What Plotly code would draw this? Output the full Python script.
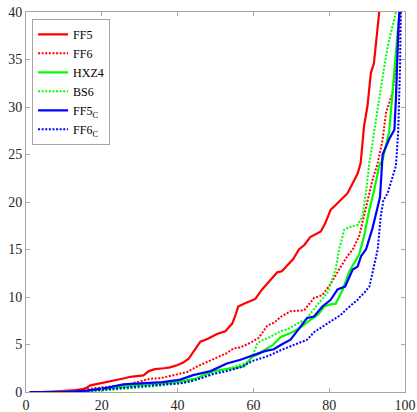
import plotly.graph_objects as go

# ---- data ----
ff5_x = [1, 4, 8, 10, 13, 15, 16, 17, 19, 20.5, 22, 24, 26, 27.5, 29, 31, 32.4, 34, 36.3, 38, 40,
         41.5, 42.9, 43.8, 44.7, 46, 48, 50.4, 52.6, 54.4, 55.2, 56, 57.5, 59.3, 60.5, 62.3, 64,
         66.3, 67.5, 69, 70.5, 72, 73.5, 75, 76.5, 77.8, 79, 80.4, 81.5, 83, 84.8, 86.6, 87.5,
         88.3, 89.2, 90.1, 91, 91.8, 92.5, 93.2]
ff5_y = [0, 0, 0.08, 0.1, 0.2, 0.3, 0.45, 0.7, 0.85, 1.0, 1.1, 1.3, 1.45, 1.6, 1.65, 1.75, 2.2,
         2.4, 2.5, 2.6, 2.85, 3.1, 3.5, 4.0, 4.6, 5.3, 5.6, 6.1, 6.4, 7.2, 8.0, 9.0, 9.3, 9.6,
         9.8, 10.8, 11.6, 12.6, 12.7, 13.3, 14.0, 15.0, 15.5, 16.3, 16.6, 16.9, 17.8, 19.2, 19.6,
         20.2, 20.9, 22.3, 23.0, 24.1, 28.0, 30.1, 33.6, 34.6, 37.5, 40]

ff6_x = [1, 8, 11.6, 15, 20.5, 24, 27.5, 30, 32.8, 35.4, 38, 40, 42.5, 45.2, 48.7, 51, 53, 54.8,
         56.6, 59.3, 61.4, 63.7, 65.5, 67.2, 69.8, 73.4, 76, 78.2, 80.4, 82.6, 84.8, 86.2, 87.9,
         89.7, 91.4, 92.8, 94.1, 95, 96.7, 98, 98.8]
ff6_y = [0, 0, 0.1, 0.25, 0.45, 0.65, 0.85, 1.1, 1.4, 1.45, 1.7, 1.9, 2.1, 2.7, 3.3, 3.7, 4.1,
         4.6, 4.7, 5.2, 5.7, 7.0, 7.3, 7.9, 8.5, 8.6, 9.9, 10.2, 11.4, 12.9, 14.3, 15.0, 16.4,
         19.4, 22.3, 24.1, 26.6, 29.4, 31.5, 35.4, 40]

hxz4_x = [1, 10, 16, 21, 25.7, 30, 33.6, 36, 40.7, 45, 49.5, 54, 57.5, 59.7, 61.4, 63.7, 65,
          67.2, 69.8, 72.5, 75, 77, 78.7, 80, 81.7, 83.5, 85.3, 87.9, 89.2, 90.6, 91.9, 93.2,
          94.1, 95.8, 97.2, 98.2, 98.6]
hxz4_y = [0, 0, 0.1, 0.35, 0.6, 0.75, 0.85, 0.9, 1.1, 1.45, 2.2, 2.5, 2.7, 3.7, 4.0, 4.6, 4.9,
          5.8, 6.2, 6.8, 7.6, 8.1, 9.0, 9.2, 9.3, 10.7, 12.7, 14.5, 16.4, 19.2, 21.3, 23.8,
          24.5, 27.3, 34.3, 38.5, 40]

bs6_x = [1, 10, 16, 20, 24.9, 29, 33.6, 38, 42.5, 45, 49.5, 54, 58.3, 59, 60, 61, 62, 64, 67.2,
         69, 72.5, 73.8, 76.9, 79.5, 81.7, 82.6, 84, 85, 87.5, 88.8, 89.7, 90.6, 91.9, 92.8,
         94.1, 95.5, 97.6]
bs6_y = [0, 0, 0.05, 0.15, 0.3, 0.45, 0.6, 0.8, 1.0, 1.3, 2.0, 2.5, 3.1, 3.3, 4.0, 5.1, 5.4,
         5.7, 6.4, 6.6, 7.4, 7.6, 9.2, 10.4, 12.9, 15.0, 17.1, 17.3, 17.6, 18.5, 21.0, 24.1,
         27.6, 29.7, 33.2, 36.5, 40]

ff5c_x = [1, 10, 16, 21.3, 25.7, 29, 33.6, 36, 39.9, 40.7, 44.3, 45, 48.7, 53, 56.6, 59.3, 61.4,
          63, 65.4, 67.2, 69.8, 71.6, 74.2, 76, 78.2, 80.4, 82.2, 84.2, 86.2, 87.5, 88.4, 89.7,
          90.6, 91.4, 92.8, 93.4, 94.1, 95.8, 97.2, 97.6, 98.2, 98.5]
ff5c_y = [0, 0, 0.15, 0.45, 0.8, 0.9, 1.0, 1.05, 1.25, 1.3, 1.8, 1.85, 2.2, 3.0, 3.4, 3.8, 4.1,
          4.3, 4.5, 4.95, 5.5, 6.4, 7.8, 7.95, 9.0, 9.7, 10.8, 11.1, 12.9, 13.2, 14.3, 15.0,
          16.2, 17.2, 19.5, 20.5, 25.0, 26.6, 27.6, 30.8, 37.8, 40]

ff6c_x = [1, 12, 20.5, 25, 29.3, 33, 38, 40.7, 45, 49.5, 53, 56.6, 60, 64, 67.2, 71.6, 74.2, 76,
          80.4, 83, 84.8, 87.5, 88.3, 89.2, 90.6, 91.4, 92.3, 92.8, 93.6, 94.3, 95.4, 96.5,
          97.6, 98.2, 98.7, 98.9]
ff6c_y = [0, 0, 0.25, 0.4, 0.6, 0.7, 0.85, 0.9, 1.3, 1.9, 2.2, 2.6, 3.3, 3.8, 4.4, 5.1, 5.5,
          6.3, 7.4, 8.1, 8.8, 9.7, 10.1, 10.4, 11.1, 12.5, 13.9, 15.0, 18.5, 20.2, 20.9, 22.3,
          23.8, 27.3, 34.3, 40]

series = [
    ("FF5", ff5_x, ff5_y, "#ff0000", "solid"),
    ("FF6", ff6_x, ff6_y, "#ff0000", "dot"),
    ("HXZ4", hxz4_x, hxz4_y, "#00ff00", "solid"),
    ("BS6", bs6_x, bs6_y, "#00ff00", "dot"),
    ("FF5<sub>C</sub>", ff5c_x, ff5c_y, "#0000ff", "solid"),
    ("FF6<sub>C</sub>", ff6c_x, ff6c_y, "#0000ff", "dot"),
]

x_ticks = [0, 20, 40, 60, 80, 100]
y_ticks = [0, 5, 10, 15, 20, 25, 30, 35, 40]

SERIF = "Liberation Serif, Times New Roman, serif"

fig = go.Figure()
for name, xs, ys, col, dash in series:
    fig.add_trace(go.Scatter(
        x=xs, y=ys, mode="lines", name=name,
        line=dict(color=col, width=2.2 if dash == "solid" else 2,
                  dash="2px,1.6px" if dash == "dot" else "solid"),
    ))

axis_common = dict(
    showgrid=False, zeroline=False, showline=True, linecolor="#a6a6a6", linewidth=1,
    mirror="allticks", ticks="inside", ticklen=4, tickcolor="#a6a6a6",
    tickfont=dict(family=SERIF, size=14, color="#262626"),
    automargin=False,
)

fig.update_layout(
    width=417, height=412,
    margin=dict(l=26, r=12, t=12, b=20),
    paper_bgcolor="white", plot_bgcolor="white",
    font=dict(family=SERIF, color="#000000"),
    xaxis=dict(range=[0, 100], tickvals=x_ticks, **axis_common),
    yaxis=dict(range=[0, 40], tickvals=y_ticks, **axis_common),
    showlegend=True,
    legend=dict(
        x=0.016, y=0.982, xanchor="left", yanchor="top",
        bgcolor="white", bordercolor="#a6a6a6", borderwidth=1,
        font=dict(family=SERIF, size=12, color="#000000"),
        itemwidth=30, tracegroupgap=0,
    ),
)

fig.write_html(
    "out.html",
    config={"displayModeBar": False},
    post_script="document.body.style.margin='0';document.body.style.padding='0';"
                "document.documentElement.style.overflow='hidden';",
)
